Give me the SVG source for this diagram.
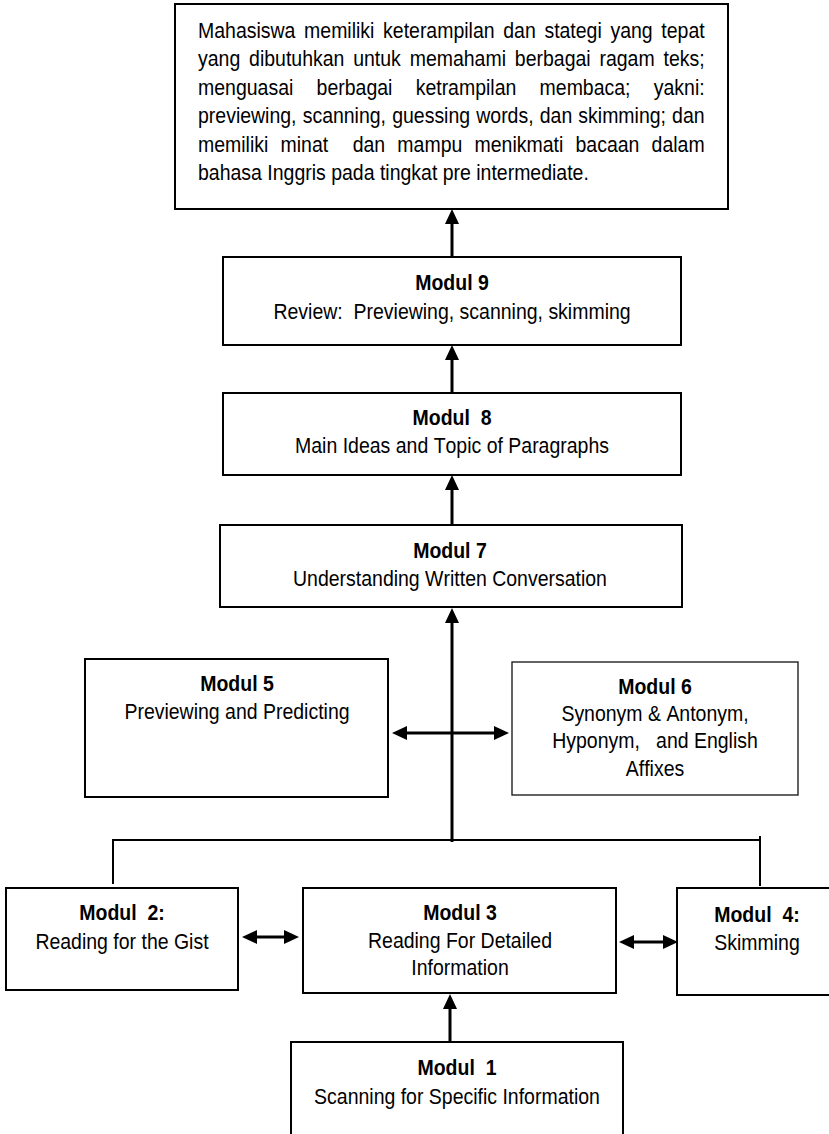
<svg xmlns="http://www.w3.org/2000/svg" width="829" height="1134" viewBox="0 0 829 1134">
<style>
.box{fill:#fff;stroke:#000;stroke-width:2}
.thin{stroke:#222;stroke-width:1.4}
text{font-family:"Liberation Sans",Arial,sans-serif;font-size:22px;fill:#000;font-kerning:none;white-space:pre}
.b{font-weight:bold}
.c{text-anchor:middle}
.ln{stroke:#000;stroke-width:2;fill:none}
.arr{stroke:#000;stroke-width:3;fill:none;marker-end:url(#ah)}
.dbl{stroke:#000;stroke-width:3;fill:none;marker-end:url(#ah);marker-start:url(#ah)}
</style>
<defs>
<marker id="ah" markerWidth="15" markerHeight="14" refX="0" refY="7" orient="auto-start-reverse" markerUnits="userSpaceOnUse" viewBox="0 0 15 14">
<path d="M0,0 L15,7 L0,14 z" fill="#000"/>
</marker>
</defs>
<rect width="829" height="1134" fill="#fff"/>

<g id="goal">
<rect class="box" x="175" y="4" width="553" height="205"/>
<g transform="scale(0.886 1)">
<text x="223.5" y="38" style="word-spacing:3.67px">Mahasiswa memiliki keterampilan dan stategi yang tepat</text>
<text x="223.5" y="66.4" style="word-spacing:3.86px">yang dibutuhkan untuk memahami berbagai ragam teks;</text>
<text x="223.5" y="94.8" style="word-spacing:20.17px">menguasai berbagai ketrampilan membaca; yakni:</text>
<text x="223.5" y="123.2" style="word-spacing:0.81px">previewing, scanning, guessing words, dan skimming; dan</text>
<text x="223.5" y="151.6" style="word-spacing:7.69px" xml:space="preserve">memiliki minat  dan mampu menikmati bacaan dalam</text>
<text x="223.5" y="180">bahasa Inggris pada tingkat pre intermediate.</text>
</g>
</g>

<g id="modul9">
<rect class="box" x="223" y="257" width="458" height="88"/>
<g transform="scale(0.886 1)">
<text class="b c" x="510.2" y="290">Modul 9</text>
<text class="c" x="510.2" y="319" xml:space="preserve">Review:  Previewing, scanning, skimming</text>
</g>
</g>

<g id="modul8">
<rect class="box" x="223" y="393" width="458" height="82"/>
<g transform="scale(0.886 1)">
<text class="b c" x="510.2" y="425" xml:space="preserve">Modul  8</text>
<text class="c" x="510.2" y="453">Main Ideas and Topic of Paragraphs</text>
</g>
</g>

<g id="modul7">
<rect class="box" x="220" y="525" width="462" height="82"/>
<g transform="scale(0.886 1)">
<text class="b c" x="507.9" y="558">Modul 7</text>
<text class="c" x="507.9" y="586">Understanding Written Conversation</text>
</g>
</g>

<g id="modul5">
<rect class="box" x="85" y="659" width="303" height="138"/>
<g transform="scale(0.886 1)">
<text class="b c" x="267.5" y="691">Modul 5</text>
<text class="c" x="267.5" y="719">Previewing and Predicting</text>
</g>
</g>

<g id="modul6">
<rect class="box thin" x="512" y="662" width="286" height="133"/>
<g transform="scale(0.886 1)">
<text class="b c" x="739.3" y="694">Modul 6</text>
<text class="c" x="739.3" y="721">Synonym &amp; Antonym,</text>
<text class="c" x="739.3" y="748" xml:space="preserve">Hyponym,   and English</text>
<text class="c" x="739.3" y="776">Affixes</text>
</g>
</g>

<g id="modul2">
<rect class="box" x="6" y="888" width="232" height="102"/>
<g transform="scale(0.886 1)">
<text class="b c" x="137.7" y="920" xml:space="preserve">Modul  2:</text>
<text class="c" x="137.7" y="949">Reading for the Gist</text>
</g>
</g>

<g id="modul3">
<rect class="box" x="303" y="888" width="313" height="105"/>
<g transform="scale(0.886 1)">
<text class="b c" x="519.2" y="920">Modul 3</text>
<text class="c" x="519.2" y="948">Reading For Detailed</text>
<text class="c" x="519.2" y="975">Information</text>
</g>
</g>

<g id="modul4">
<rect class="box" x="677" y="888" width="170" height="107"/>
<g transform="scale(0.886 1)">
<text class="b c" x="854.4" y="922" xml:space="preserve">Modul  4:</text>
<text class="c" x="854.4" y="950">Skimming</text>
</g>
</g>

<g id="modul1">
<rect class="box" x="291" y="1042" width="332" height="110"/>
<g transform="scale(0.886 1)">
<text class="b c" x="515.8" y="1075" xml:space="preserve">Modul  1</text>
<text class="c" x="515.8" y="1104">Scanning for Specific Information</text>
</g>
</g>

<g id="connectors">
<line class="arr" x1="452" y1="257" x2="452" y2="224"/>
<line class="arr" x1="452" y1="393" x2="452" y2="360"/>
<line class="arr" x1="452" y1="525" x2="452" y2="490"/>
<line class="arr" x1="452" y1="842" x2="452" y2="623"/>
<line class="dbl" x1="407" y1="733" x2="494" y2="733"/>
<polyline class="ln" points="113,884 113,840 760,840"/>
<line class="ln" x1="760" y1="836" x2="760" y2="886"/>
<line class="dbl" x1="257" y1="937" x2="284" y2="937"/>
<line class="dbl" x1="634" y1="942" x2="663" y2="942"/>
<line class="arr" x1="450" y1="1042" x2="450" y2="1009"/>
</g>
</svg>
